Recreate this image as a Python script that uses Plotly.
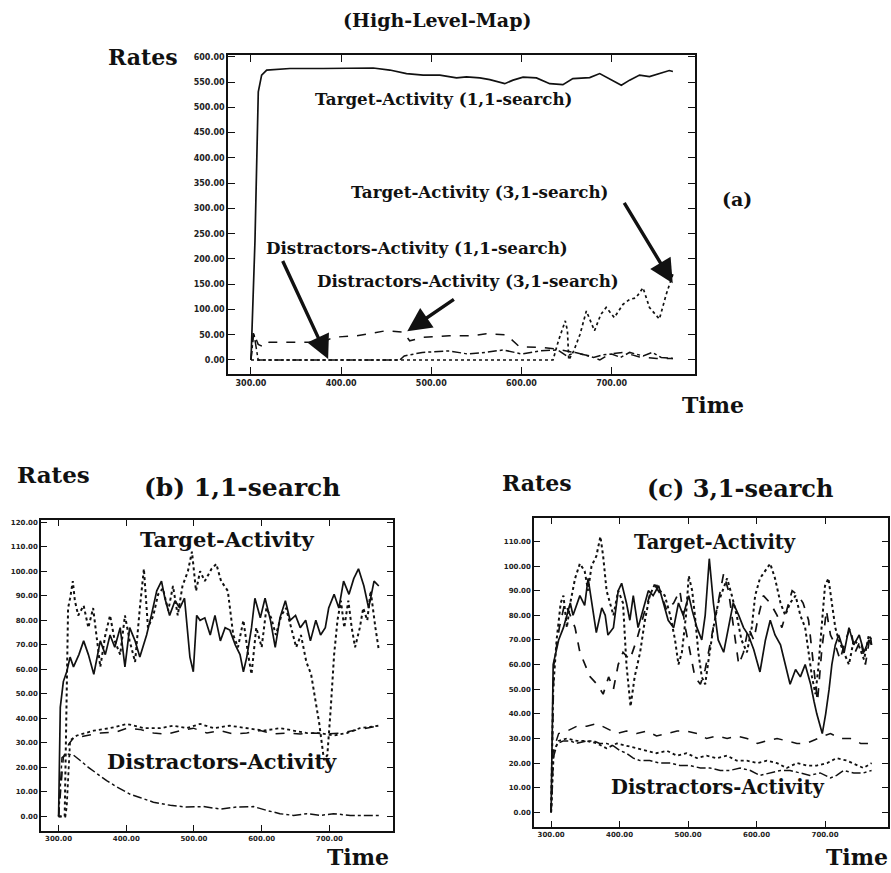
import plotly.graph_objects as go

# ---------------- Panel (a): High-Level-Map ----------------
a_t11_time = [300, 304.4, 308.1, 311.8, 317.4, 328.4, 343.2, 380, 417, 435.6, 454, 472.5, 491, 509.5, 528, 539,
              553.8, 564.9, 581.5, 590.7, 601.8, 616.6, 631.4, 646, 657, 675.7, 686.8, 697.9, 710.8, 720, 731,
              742, 753, 764, 768]
a_t11_rate = [0, 235, 531, 564, 574, 575.5, 577, 577, 577, 578, 574, 567, 564, 564, 558.5, 560.5,
              558.5, 555, 547, 554, 560, 558.5, 547, 545, 557, 559, 567, 557, 544, 554, 564,
              561, 567, 573, 571]

a_t31_time = [300, 305, 400, 500, 600, 635, 641, 648.6, 651, 652.5, 658, 665, 672, 681, 688, 694, 703, 712.6,
              720, 727, 734.8, 742, 753, 760.6, 768]
a_t31_rate = [0, 0, 0, 0, 0, 0, 38, 77.5, 58, 0, 18, 51, 97, 58, 90, 104, 84, 110,
              120, 123, 143, 104, 81, 130, 170]

a_d11_time = [300, 303, 308, 350, 400, 465, 470, 490, 520, 540, 560, 580, 600, 620, 640, 650, 660, 670, 680,
              690, 700, 710, 720, 735, 745, 755, 768]
a_d11_rate = [0, 55, 0, 0, 0, 0, 8, 15, 18, 12, 15, 20, 12, 18, 20, 8, 15, 10, 5,
              10, 12, 5, 15, 8, 15, 5, 3]

a_d31_time = [300, 302.6, 308, 315, 320, 350, 380, 391, 417, 450, 469, 476, 491, 520, 546, 561, 583, 598,
              620, 639, 657, 676, 687, 698, 713, 731, 750, 768]
a_d31_rate = [0, 55, 31, 25, 35, 35, 35, 45, 48, 58, 55, 38, 45, 48, 48, 52, 50, 26,
              25, 22, 15, 8, 0, 12, 15, 6, 3, 3]

# ---------------- Panel (b): 1,1-search ----------------
b_ts_time = [300, 302.5, 307, 312, 317, 322, 330, 337, 344, 352, 361.6, 369, 376, 383, 391, 398, 405, 413, 420,
             430, 437, 445, 452, 457, 464, 472, 479, 486, 494, 499, 504, 509, 516, 524, 531, 539, 546, 553,
             561, 568, 573, 578, 585, 590, 598, 605, 613, 620, 627, 635, 642, 650, 657, 665, 672, 680, 687,
             694, 699, 707, 714, 721, 729, 736, 743, 751, 758, 766, 773]
b_ts_rate = [0, 44.5, 55, 59, 65, 61, 66, 71.6, 66, 58, 71.6, 66, 74, 69, 77, 61, 77, 71.6, 65,
             74, 82, 92, 96, 89, 82, 88, 85, 89, 65, 59, 82, 80, 81, 74, 82, 71.6, 77, 76,
             70, 66, 59, 65, 77, 89, 81, 89, 80, 69, 81, 88, 80, 82, 77, 80, 71.6, 80, 74,
             77, 85, 90.6, 85, 96, 90.6, 97, 101, 94, 85, 96, 94]

b_td_time = [300, 309, 314, 317, 321, 324, 329, 337, 344, 351, 361.6, 369, 376, 383, 391, 398, 405, 413, 420,
             426, 432, 440, 447, 454, 462, 469, 476, 483, 491, 497, 503, 509, 516, 526, 533, 540, 550, 558,
             565, 573, 580, 585, 592, 600, 607, 614, 621, 629, 636, 644, 651, 658, 666, 673, 678, 685, 692,
             697, 702, 707, 712, 717, 722, 728, 733, 738, 745, 750, 756, 761, 768, 773]
b_td_rate = [0, 0, 85, 89, 96, 88, 82, 86, 77, 85, 61, 74, 82, 71.6, 66, 82, 71.6, 63, 85,
             101, 77, 82, 90.6, 93, 84, 94, 82, 94, 100, 108, 92, 100, 96, 101, 103, 96, 92, 74,
             69, 80, 66, 58, 77, 69, 85, 81, 74, 82, 85, 77, 69, 74, 63, 58, 50, 38, 23,
             25, 44, 66, 80, 88, 77, 88, 77, 69, 77, 85, 80, 92, 77, 68]

b_dd_time = [300, 307, 315, 322, 342, 362, 386, 401, 420, 440, 460, 480, 499, 519, 539, 558, 578, 598, 617,
             637, 657, 677, 696, 716, 736, 756, 773]
b_dd_rate = [0, 24, 29.5, 32, 33, 34, 34.5, 36, 35.5, 34, 33.6, 35, 36, 34, 35, 33.6, 34, 35, 33.6,
             34, 33.6, 34, 33.6, 34, 35, 36, 37]

b_do_time = [300, 310, 312, 317, 327, 352, 376, 401, 426, 450, 470, 489, 509, 529, 553, 578, 603, 627, 647,
             667, 686, 706, 726, 745, 773]
b_do_rate = [0, 0, 4, 31, 33, 35, 36, 37.7, 36, 36, 37, 36, 37.7, 36, 37, 36, 35, 36, 35,
             34, 34, 33, 34, 36, 37]

b_dc_time = [300, 305, 312, 322, 332, 344, 357, 371, 386, 406, 420, 440, 465, 489, 514, 539, 563, 588, 608,
             627, 647, 667, 686, 706, 731, 773]
b_dc_rate = [0, 24, 25.5, 25, 22.8, 20, 17.4, 14.6, 12, 9, 7.7, 5.8, 4.5, 3.8, 4, 3, 3.8, 4, 2.4,
             1.1, 0.4, 1.1, 0.4, 1.1, 0.4, 0.4]

# ---------------- Panel (c): 3,1-search ----------------
c_ts_time = [300, 303, 311, 318, 328, 332, 342, 349, 354, 359, 366, 374, 379, 383, 391, 398, 403, 410, 415,
             420, 427, 435, 442, 449, 457, 464, 471, 479, 486, 493, 501, 506, 513, 520, 525, 531, 537, 544,
             552, 559, 566, 574, 581, 588, 596, 600, 605, 613, 620, 627, 635, 642, 649, 657, 664, 671, 679,
             684, 688, 696, 701, 706, 710, 715, 720, 728, 735, 742, 750, 757, 764, 768]
c_ts_rate = [0, 60, 70, 75, 85, 80, 88, 84, 95, 85, 73, 83, 80, 72, 75, 90, 93, 85, 78,
             88, 75, 83, 90, 88, 92, 85, 78, 75, 85, 80, 88, 82, 75, 70, 80, 103, 85, 70,
             65, 75, 85, 80, 75, 72, 66, 62, 57, 70, 78, 72, 68, 60, 52, 58, 55, 60, 52,
             45, 40, 32, 40, 50, 60, 68, 72, 65, 75, 68, 72, 65, 70, 68]

c_td_time = [300, 303, 308, 314, 318, 323, 328, 335, 342, 349, 354, 359, 366, 372, 376, 381, 386, 391, 398,
             405, 410, 416, 422, 430, 437, 444, 452, 459, 466, 474, 481, 486, 491, 497, 501, 506, 510, 515,
             520, 525, 530, 537, 544, 557, 564, 571, 578, 586, 593, 598, 605, 613, 620, 627, 635, 642, 649,
             657, 664, 671, 676, 681, 686, 690, 695, 700, 705, 710, 715, 720, 727, 735, 742, 749, 757, 764, 768]
c_td_rate = [0, 50, 70, 85, 88, 75, 85, 95, 101, 98, 90, 100, 104, 112, 104, 90, 85, 80, 90,
             85, 60, 43, 55, 65, 78, 88, 93, 90, 88, 80, 70, 60, 65, 80, 96, 90, 80, 65,
             55, 52, 62, 75, 85, 95, 88, 80, 70, 65, 75, 88, 95, 98, 101, 95, 85, 80, 85,
             88, 80, 75, 65, 55, 48, 58, 75, 92, 95, 85, 75, 70, 65, 60, 70, 68, 62, 72, 70]

c_tk_time = [300, 304, 312, 320, 328, 335, 342, 350, 357, 367, 376, 384, 391, 398, 405, 415, 425, 435, 444,
             452, 461, 469, 479, 488, 496, 503, 510, 518, 525, 532, 540, 552, 559, 566, 574, 581, 588, 596,
             603, 610, 620, 630, 637, 644, 652, 661, 668, 676, 683, 689, 695, 702, 708, 715, 722, 730, 737,
             744, 752, 759, 766, 768]
c_tk_rate = [0, 60, 75, 85, 80, 75, 65, 60, 55, 52, 48, 55, 50, 60, 65, 62, 70, 80, 88,
             92, 88, 82, 85, 90, 75, 65, 55, 52, 58, 68, 80, 97, 90, 75, 60, 65, 75, 70,
             80, 88, 85, 80, 75, 82, 90, 88, 85, 78, 60, 45, 65, 82, 72, 68, 62, 70, 75,
             65, 70, 60, 72, 68]

c_dd_time = [300, 303, 311, 323, 338, 352, 367, 381, 396, 410, 425, 440, 454, 469, 484, 498, 513, 527, 542,
             557, 571, 586, 601, 615, 630, 644, 659, 673, 688, 698, 708, 722, 737, 752, 766, 768]
c_dd_rate = [0, 25, 32, 33, 35, 35, 36, 34, 32, 33, 32, 33, 31, 32, 33, 33, 32, 30, 31,
             30, 31, 30, 28, 29, 30, 29, 28, 28, 30, 31, 32, 30, 30, 28, 28, 29]

c_do_time = [300, 304, 311, 323, 338, 352, 367, 381, 396, 410, 425, 440, 454, 469, 484, 498, 513, 527, 542,
             557, 571, 586, 601, 615, 630, 644, 659, 673, 688, 703, 717, 732, 747, 756, 768]
c_do_rate = [0, 25, 29, 30, 29, 29, 28, 26, 28, 27, 26, 25, 24, 25, 23, 24, 22, 23, 22,
             23, 21, 21, 20, 21, 20, 18, 20, 19, 19, 20, 22, 21, 19, 18, 20]

c_dc_time = [300, 303, 309, 318, 328, 337, 352, 362, 371, 381, 391, 401, 410, 420, 430, 444, 459, 474, 488,
             503, 518, 532, 547, 561, 576, 591, 605, 620, 635, 649, 664, 678, 693, 708, 717, 727, 742, 756, 768]
c_dc_rate = [0, 22, 28, 29, 29, 28, 29, 29, 28, 28, 27, 25, 24, 22, 21, 21, 20, 20, 19,
             19, 18, 18, 17, 17, 18, 17, 15, 16, 17, 17, 16, 15, 16, 14, 15, 17, 16, 16, 17]

# ---------------- Figure ----------------
fig = go.Figure()
BLACK = "#111111"


def add(x, y, xa, ya, dash, width=1.4):
    fig.add_trace(go.Scatter(x=x, y=y, mode="lines", xaxis=xa, yaxis=ya,
                             line=dict(color=BLACK, width=width, dash=dash),
                             showlegend=False, hoverinfo="skip"))


add(a_t11_time, a_t11_rate, "x", "y", "solid", 1.7)
add(a_t31_time, a_t31_rate, "x", "y", "dot", 1.7)
add(a_d11_time, a_d11_rate, "x", "y", "dashdot", 1.5)
add(a_d31_time, a_d31_rate, "x", "y", "dash", 1.5)

add(b_ts_time, b_ts_rate, "x2", "y2", "solid", 1.7)
add(b_td_time, b_td_rate, "x2", "y2", "dot", 2.0)
add(b_dd_time, b_dd_rate, "x2", "y2", "dash", 1.5)
add(b_do_time, b_do_rate, "x2", "y2", "dot", 1.8)
add(b_dc_time, b_dc_rate, "x2", "y2", "dashdot", 1.5)

add(c_ts_time, c_ts_rate, "x3", "y3", "solid", 1.7)
add(c_td_time, c_td_rate, "x3", "y3", "dot", 2.0)
add(c_tk_time, c_tk_rate, "x3", "y3", "dash", 1.7)
add(c_dd_time, c_dd_rate, "x3", "y3", "dash", 1.5)
add(c_do_time, c_do_rate, "x3", "y3", "dot", 1.8)
add(c_dc_time, c_dc_rate, "x3", "y3", "dashdot", 1.5)

W, H = 891, 873


def px_x(p):
    return p / W


def px_y(p):
    return 1 - p / H


axis_common = dict(showgrid=False, zeroline=False, showline=True, linecolor=BLACK, linewidth=1.6,
                   mirror="allticks", ticks="inside", tickcolor=BLACK, tickwidth=1.3,
                   tickformat=".2f", fixedrange=True)

tf_a = dict(family="DejaVu Sans", size=8, color="#222222", weight="bold")
tf_b = dict(family="DejaVu Sans", size=7, color="#222222", weight="bold")

fig.update_layout(
    width=W, height=H, margin=dict(l=0, r=0, t=0, b=0),
    paper_bgcolor="white", plot_bgcolor="white",
    xaxis=dict(domain=[px_x(228), px_x(695)], range=[274.5, 792.5], dtick=100, tick0=300, ticklen=7,
               anchor="y", tickfont=tf_a, **axis_common),
    yaxis=dict(domain=[px_y(373), px_y(53)], range=[-28, 604], dtick=50, tick0=0, ticklen=7,
               anchor="x", tickfont=tf_a, **axis_common),
    xaxis2=dict(domain=[px_x(41), px_x(393)], range=[274, 794], dtick=100, tick0=300, ticklen=6,
                anchor="y2", tickfont=tf_b, **axis_common),
    yaxis2=dict(domain=[px_y(831), px_y(519)], range=[-6, 121], dtick=10, tick0=0, ticklen=6,
                anchor="x2", tickfont=tf_b, **axis_common),
    xaxis3=dict(domain=[px_x(534), px_x(888)], range=[275, 792], dtick=100, tick0=300, ticklen=6,
                anchor="y3", tickfont=tf_b, **axis_common),
    yaxis3=dict(domain=[px_y(827), px_y(517)], range=[-6, 119.6], dtick=10, tick0=0, ticklen=6,
                anchor="x3", tickfont=tf_b, **axis_common),
)

SERIF = "DejaVu Serif"


def label(text, x, y, size, xanchor="center", yanchor="middle"):
    fig.add_annotation(text="<b>%s</b>" % text, x=px_x(x), y=px_y(y), xref="paper", yref="paper",
                       showarrow=False, font=dict(family=SERIF, size=size, color=BLACK),
                       xanchor=xanchor, yanchor=yanchor, borderpad=0)


# page labels
label("(High-Level-Map)", 437, 18, 19)
label("Rates", 143, 55, 22)
label("(a)", 737, 197, 19)
label("Time", 713, 404, 22)
label("Rates", 53, 474, 23)
label("(b) 1,1-search", 242, 487, 25)
label("Time", 358, 871, 22, yanchor="bottom")
label("Rates", 537, 482, 22)
label("(c) 3,1-search", 740, 488, 24)
label("Time", 889, 871, 22, xanchor="right", yanchor="bottom")

# in-plot labels
label("Target-Activity (1,1-search)", 443, 97, 16.7)
label("Target-Activity (3,1-search)", 479, 190, 16.7)
label("Distractors-Activity (1,1-search)", 417, 247, 16.7)
label("Distractors-Activity (3,1-search)", 468, 280, 16.7)
label("Target-Activity", 227, 539, 21)
label("Distractors-Activity", 222, 761, 21)
label("Target-Activity", 715, 542, 19.5)
label("Distractors-Activity", 718, 787, 19.5)

# arrows in panel (a)
for (hx, hy, tx, ty) in [(385.6, 2, 334.4, 199), (473.3, 57, 526.7, 122), (767.8, 152, 713, 314)]:
    fig.add_annotation(x=hx, y=hy, ax=tx, ay=ty, xref="x", yref="y", axref="x", ayref="y",
                       text="", showarrow=True, arrowhead=2, arrowsize=1.4, arrowwidth=3.4,
                       arrowcolor=BLACK)

fig.write_html("out.html", config={"displayModeBar": False},
               post_script="document.body.style.margin='0px';document.body.style.overflow='hidden';")
